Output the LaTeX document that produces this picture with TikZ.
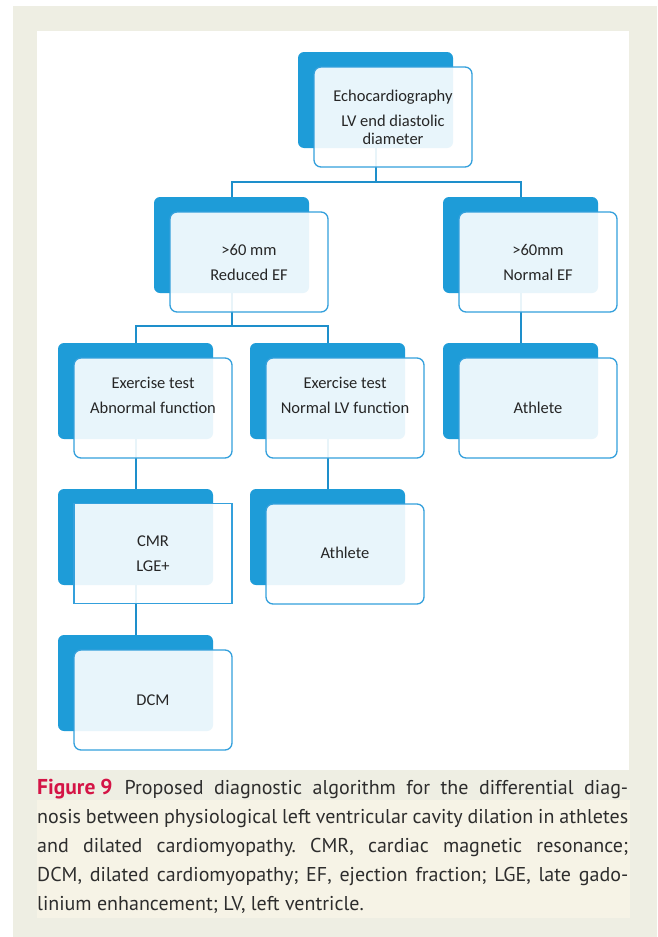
\documentclass[tikz,border=0pt]{standalone}
\usepackage{fontspec}
\setmainfont{Carlito}
\newfontfamily\capfont{PT Sans}
\definecolor{bgray}{RGB}{238,238,227}
\definecolor{cream}{RGB}{246,243,230}
\definecolor{dkblue}{RGB}{30,156,216}
\definecolor{brd}{RGB}{52,160,220}
\definecolor{lnblue}{RGB}{30,143,203}
\definecolor{txt}{RGB}{38,38,38}
\definecolor{captxt}{RGB}{45,45,45}
\definecolor{crimson}{RGB}{212,20,70}
\tikzset{
  backbox/.style={rectangle, rounded corners=6pt, fill=dkblue, draw=none,
    minimum width=155pt, minimum height=96pt, inner sep=0pt},
  frontbox/.style={rectangle, rounded corners=7pt, draw=brd, line width=1.3pt,
    fill=white, fill opacity=0.9, minimum width=158pt, minimum height=100pt, inner sep=0pt},
  sharpfront/.style={frontbox, sharp corners},
  conn/.style={draw=lnblue, line width=2pt},
  boxtext/.style={text=txt, font=\fontsize{16.5}{25}\selectfont, align=center, inner sep=0pt},
  capline/.style={text=captxt, font=\capfont\fontsize{20}{29}\selectfont, inner sep=0pt, anchor=base west}
}
\frenchspacing
\begin{document}
\begin{tikzpicture}[x=1pt,y=-1pt]
\useasboundingbox (0,0) rectangle (657,937);
\fill[white] (0,0) rectangle (657,937);
\fill[bgray] (13,6) rectangle (657,937);
\fill[white] (37,31) rectangle (629,770);
\fill[cream] (37,800) rectangle (630,918);

% back boxes
\node[backbox] (top-b) at (375.5,100) {};
\node[backbox] (l2a-b) at (231.5,245) {};
\node[backbox] (l2b-b) at (520.5,245) {};
\node[backbox] (l3a-b) at (135.5,391) {};
\node[backbox] (l3b-b) at (327.5,391) {};
\node[backbox] (l3c-b) at (520.5,391) {};
\node[backbox] (l4a-b) at (135.5,537) {};
\node[backbox] (l4b-b) at (327.5,537) {};
\node[backbox] (l5-b) at (135.5,683) {};

% connectors
\draw[conn] (top-b.south) -- ++(0,34) coordinate (j1);
\draw[conn] (l2a-b.north) |- (j1) -| (l2b-b.north);
\draw[conn] (l2a-b.south) -- ++(0,33) coordinate (j2);
\draw[conn] (l3a-b.north) |- (j2) -| (l3b-b.north);
\draw[conn] (l2b-b.south) -- (l3c-b.north);
\draw[conn] (l3a-b.south) -- (l4a-b.north);
\draw[conn] (l3b-b.south) -- (l4b-b.north);
\draw[conn] (l4a-b.south) -- (l5-b.north);

% front boxes
\node[frontbox] (top-f) at (393,117) {};
\node[frontbox] (l2a-f) at (249,262) {};
\node[frontbox] (l2b-f) at (538,262) {};
\node[frontbox] (l3a-f) at (153,408) {};
\node[frontbox] (l3b-f) at (345,408) {};
\node[frontbox] (l3c-f) at (538,408) {};
\node[sharpfront] (l4a-f) at (153,553.5) {};
\node[frontbox] (l4b-f) at (345,554) {};
\node[frontbox] (l5-f) at (153,700) {};

% texts
\node[boxtext, font=\fontsize{16.5}{18}\selectfont] (top-t) at (393,117) {Echocardiography\\[7pt]LV end diastolic\\diameter};
\node[boxtext] (l2a-t) at (249,262.5) {>60 mm\\Reduced EF};
\node[boxtext] (l2b-t) at (538,262.5) {>60mm\\Normal EF};
\node[boxtext] (l3a-t) at (153,395.5) {Exercise test\\Abnormal function};
\node[boxtext] (l3b-t) at (345,395.5) {Exercise test\\Normal LV function};
\node[boxtext] (l3c-t) at (538,408) {Athlete};
\node[boxtext] (l4a-t) at (153,554) {CMR\\LGE+};
\node[boxtext] (l4b-t) at (345,553) {Athlete};
\node[boxtext] (l5-t) at (153,700) {DCM};

% caption
\node[capline] (cap1) at (37,794) {\makebox[591pt][s]{{\color{crimson}\bfseries\fontsize{21.5}{29}\selectfont Figure\hspace{5pt}9}\hspace{12pt}Proposed diagnostic algorithm for the differential diag-}};
\node[capline] (cap2) at (37,823) {\makebox[591pt][s]{nosis between physiological left ventricular cavity dilation in athletes}};
\node[capline] (cap3) at (37,852) {\makebox[591pt][s]{and dilated cardiomyopathy. CMR, cardiac magnetic resonance;}};
\node[capline] (cap4) at (37,881) {\makebox[591pt][s]{DCM, dilated cardiomyopathy; EF, ejection fraction; LGE, late gado-}};
\node[capline] (cap5) at (37,910) {linium enhancement; LV, left ventricle.};
\end{tikzpicture}
\end{document}
